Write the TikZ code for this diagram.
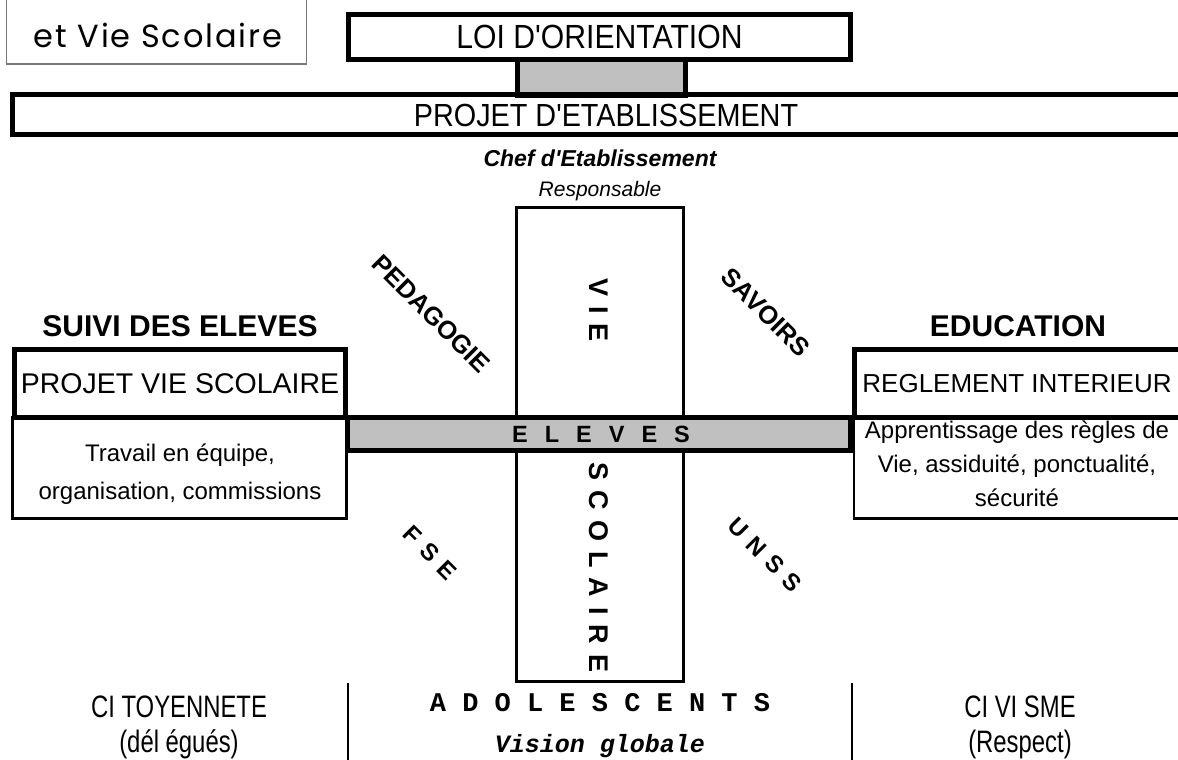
\documentclass[tikz,border=0pt]{standalone}
\usepackage{fontspec}
\setmainfont{Liberation Sans}
\setmonofont{Liberation Mono}
\newfontfamily\narrowfont[FakeStretch=0.9]{Liberation Sans}
\newfontfamily\condfont[FakeStretch=0.77]{Liberation Sans}
\newfontfamily\logofont[LetterSpace=6]{Poppins}
\definecolor{barfill}{RGB}{192,192,192}
\definecolor{logoframe}{RGB}{120,120,120}
\tikzset{
	thickbox/.style={draw, line width=5bp, inner sep=0pt},
	thinbox/.style={draw, line width=2.5bp, inner sep=0pt},
	graybar/.style={thickbox, fill=barfill},
	bandtext/.style={font=\narrowfont\fontsize{32bp}{38bp}\selectfont},
	boxtext/.style={font=\fontsize{#1}{34bp}\selectfont},
	bodytext/.style={align=center, inner sep=0pt},
	headtext/.style={font=\bfseries\fontsize{30bp}{36bp}\selectfont},
	diagtext/.style={font=\bfseries\fontsize{25.5bp}{30bp}\selectfont, rotate=-45},
	vertletters/.style={font=\bfseries\fontsize{27bp}{30bp}\selectfont\spaceskip 10bp\relax, rotate=-90},
	barletters/.style={font=\bfseries\fontsize{23.5bp}{28bp}\selectfont\spaceskip 17bp\relax},
	diagletters/.style={font=\bfseries\fontsize{24bp}{28bp}\selectfont\spaceskip 9bp\relax, rotate=-45},
	foottext/.style={font=\condfont\fontsize{31bp}{35bp}\selectfont, align=center},
}

\begin{document}
\begin{tikzpicture}[x=1bp, y=-1bp]
	\useasboundingbox (0,0) rectangle (1178,760);
	\clip (0,0) rectangle (1178,760);
	\node[draw=logoframe, line width=1.5bp, minimum width=300bp, minimum height=130bp] (logo) at (156.5,-1) {};
	\node[font=\logofont\fontsize{32bp}{36bp}\selectfont] (logotext) at (158,35) {et Vie Scolaire};

	\node[graybar, minimum width=168bp, minimum height=36bp] (link) at (601,77.5) {};
	\node[thickbox, bandtext, minimum width=502bp, minimum height=45bp] (loi) at (599.5,37) {\fontsize{33.5bp}{38bp}\selectfont LOI D'ORIENTATION};
	\node[thickbox, bandtext, minimum width=1177bp, minimum height=39.5bp] (etab) at (601.5,114.75) {};
	\node[bandtext] (etabtext) at (606,115) {PROJET D'ETABLISSEMENT};

	\node[font=\bfseries\itshape\fontsize{23bp}{26bp}\selectfont] (chef) at (600,158) {Chef d\textquotesingle Etablissement};
	\node[font=\itshape\fontsize{21bp}{25bp}\selectfont] (resp) at (600,191) {Responsable};

	\node[thinbox, minimum width=167bp, minimum height=474bp] (column) at (600,444.5) {};
	\node[vertletters] (vie) at (599,310) {V I E};
	\node[vertletters] (scolaire) at (599,567.5) {S C O L A I R E};
	\node[graybar, minimum width=503bp, minimum height=33bp] (eleves) at (599,434) {};
	\node[barletters] (elevestext) at (601,434) {E L E V E S};

	\node[diagtext] (pedagogie) at (431,314) {PEDAGOGIE};
	\node[diagtext] (savoirs) at (766,312) {SAVOIRS};
	\node[diagletters] (fse) at (430,553) {F S E};
	\node[diagletters] (unss) at (765,555) {U N S S};

	\node[headtext] (suivi) at (180,326) {SUIVI DES ELEVES};
	\node[thickbox, boxtext=28.5bp, minimum width=331bp, minimum height=68bp] (pvs) at (180,383.5) {PROJET VIE SCOLAIRE};
	\node[thinbox, minimum width=334bp, minimum height=101bp] (travail) at (179.5,468) {};
	\node[bodytext, font=\fontsize{24bp}{38bp}\selectfont] (travailtext) at (180,474) {Travail en équipe,\\organisation, commissions};

	\node[headtext] (education) at (1018,326) {EDUCATION};
	\node[thickbox, minimum width=328.5bp, minimum height=68bp] (reglement) at (1018.75,383.5) {};
	\node[boxtext=26bp] (reglementtext) at (1017,383.5) {REGLEMENT INTERIEUR};
	\node[thinbox, minimum width=329bp, minimum height=101bp] (regles) at (1018.5,468) {};
	\node[bodytext, font=\fontsize{24bp}{34bp}\selectfont] (reglestext) at (1017,464) {Apprentissage des règles de\\Vie, assiduité, ponctualité,\\sécurité};

	\coordinate (leftsep) at (348,683);
	\coordinate (rightsep) at (852,683);
	\draw[line width=2.5bp] (leftsep) -- (leftsep |- 0,760);
	\draw[line width=2.5bp] (rightsep) -- (rightsep |- 0,760);

	\node[foottext] (citoyen) at (179,727) {CI TOYENNETE\\(dél égués)};
	\node[font=\ttfamily\bfseries\fontsize{27bp}{30bp}\selectfont] (ados) at (600,703) {A D O L E S C E N T S};
	\node[font=\ttfamily\bfseries\itshape\fontsize{25bp}{28bp}\selectfont] (vision) at (600,746) {Vision globale};
	\node[foottext] (civisme) at (1020,727) {CI VI SME\\(Respect)};
\end{tikzpicture}
\end{document}
